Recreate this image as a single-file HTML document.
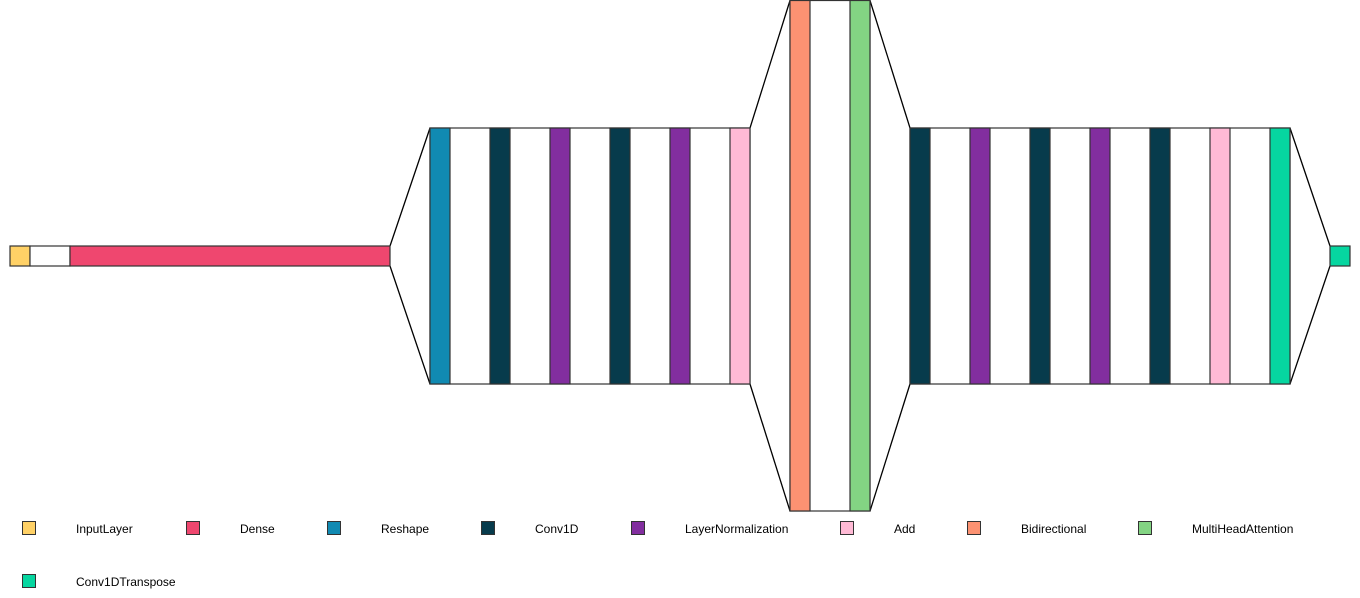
<!DOCTYPE html>
<html><head><meta charset="utf-8"><style>
html,body{margin:0;padding:0;background:#fff;width:1360px;height:598px;overflow:hidden}
svg text{font-family:"Liberation Sans",Arial,sans-serif;font-size:12px;fill:#000}
</style></head><body>
<svg width="1360" height="598" viewBox="0 0 1360 598" xmlns="http://www.w3.org/2000/svg">
<g stroke="#000" stroke-width="1.3" fill="none">
<line x1="390" y1="246" x2="430" y2="128"/><line x1="390" y1="266" x2="430" y2="384"/>
<line x1="750" y1="128" x2="790" y2="0.5"/><line x1="750" y1="384" x2="790" y2="511"/>
<line x1="870" y1="0.5" x2="910" y2="128"/><line x1="870" y1="511" x2="910" y2="384"/>
<line x1="1290" y1="128" x2="1330" y2="246"/><line x1="1290" y1="384" x2="1330" y2="266"/>
</g>
<g stroke="#333" stroke-width="1.2">
<rect x="10" y="246" width="20" height="20" fill="#ffd166"/>
<rect x="30" y="246" width="40" height="20" fill="#fff"/>
<rect x="70" y="246" width="320" height="20" fill="#ef476f"/>
<rect x="430" y="128" width="320" height="256" fill="#fff"/>
<rect x="430" y="128" width="20" height="256" fill="#118ab2"/>
<rect x="490" y="128" width="20" height="256" fill="#073b4c"/>
<rect x="550" y="128" width="20" height="256" fill="#822e9f"/>
<rect x="610" y="128" width="20" height="256" fill="#073b4c"/>
<rect x="670" y="128" width="20" height="256" fill="#822e9f"/>
<rect x="730" y="128" width="20" height="256" fill="#ffbad5"/>
<rect x="790" y="0.5" width="80" height="510.5" fill="#fff"/>
<rect x="790" y="0.5" width="20" height="510.5" fill="#fc9272"/>
<rect x="850" y="0.5" width="20" height="510.5" fill="#83d483"/>
<rect x="910" y="128" width="380" height="256" fill="#fff"/>
<rect x="910" y="128" width="20" height="256" fill="#073b4c"/>
<rect x="970" y="128" width="20" height="256" fill="#822e9f"/>
<rect x="1030" y="128" width="20" height="256" fill="#073b4c"/>
<rect x="1090" y="128" width="20" height="256" fill="#822e9f"/>
<rect x="1150" y="128" width="20" height="256" fill="#073b4c"/>
<rect x="1210" y="128" width="20" height="256" fill="#ffbad5"/>
<rect x="1270" y="128" width="20" height="256" fill="#06d6a0"/>
<rect x="1330" y="246" width="20" height="20" fill="#06d6a0"/>
</g>
<g stroke="#333" stroke-width="1">
<rect x="22.5" y="521.5" width="13" height="13" fill="#ffd166"/>
<rect x="186.5" y="521.5" width="13" height="13" fill="#ef476f"/>
<rect x="327.5" y="521.5" width="13" height="13" fill="#118ab2"/>
<rect x="481.5" y="521.5" width="13" height="13" fill="#073b4c"/>
<rect x="631.5" y="521.5" width="13" height="13" fill="#822e9f"/>
<rect x="840.5" y="521.5" width="13" height="13" fill="#ffbad5"/>
<rect x="967.5" y="521.5" width="13" height="13" fill="#fc9272"/>
<rect x="1138.5" y="521.5" width="13" height="13" fill="#83d483"/>
<rect x="22.5" y="574.5" width="13" height="13" fill="#06d6a0"/>
</g>
<text x="76" y="533">InputLayer</text>
<text x="240" y="533">Dense</text>
<text x="381" y="533">Reshape</text>
<text x="535" y="533">Conv1D</text>
<text x="685" y="533">LayerNormalization</text>
<text x="894" y="533">Add</text>
<text x="1021" y="533">Bidirectional</text>
<text x="1192" y="533">MultiHeadAttention</text>
<text x="76" y="586">Conv1DTranspose</text>
</svg>
</body></html>
